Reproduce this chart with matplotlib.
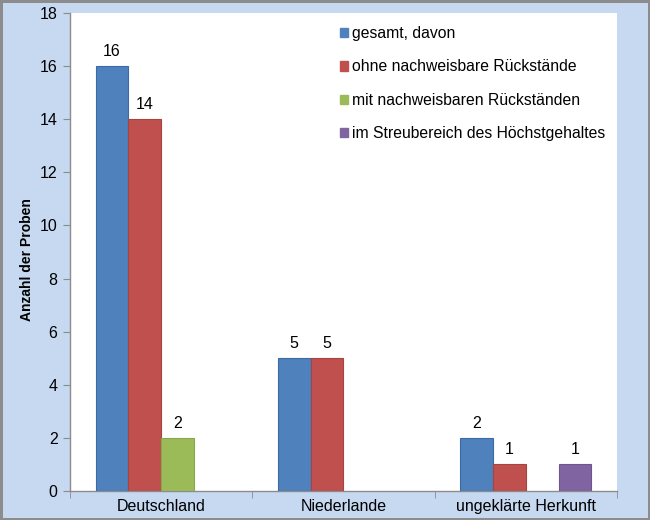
import matplotlib
matplotlib.use("Agg")
import matplotlib.pyplot as plt
from matplotlib.patches import Patch
import numpy as np

plt.rcParams['font.family'] = ['Liberation Sans', 'DejaVu Sans']

categories = ["Deutschland", "Niederlande", "ungeklärte Herkunft"]
series_names = ["gesamt, davon", "ohne nachweisbare Rückstände",
                "mit nachweisbaren Rückständen", "im Streubereich des Höchstgehaltes"]
gesamt = [16, 5, 2]
ohne = [14, 5, 1]
mit = [2, 0, 0]
streu = [0, 0, 1]
series_values = [gesamt, ohne, mit, streu]
colors = ["#4F81BD", "#C0504D", "#9BBB59", "#8064A2"]
edges = ["#3A6BA8", "#A84440", "#88A84A", "#6E5590"]
yticks = [0, 2, 4, 6, 8, 10, 12, 14, 16, 18]

fig = plt.figure(figsize=(6.5, 5.2), dpi=100)
fig.patch.set_facecolor("#C6D9F1")
fig.patch.set_edgecolor("#8C8C8C")
fig.patch.set_linewidth(2.5)
ax = fig.add_axes([0.1077, 0.0558, 0.8415, 0.9192])
ax.set_facecolor("white")

x = np.arange(len(categories))
w = 0.18
for i, (vals, c, ec) in enumerate(zip(series_values, colors, edges)):
    off = (i - 1.5) * w
    xs = [x[j] + off for j in range(len(vals)) if vals[j] > 0]
    vs = [v for v in vals if v > 0]
    bars = ax.bar(xs, vs, width=w, color=c, edgecolor=ec, linewidth=0.8, zorder=3)
    ax.bar_label(bars, labels=[str(v) for v in vs], padding=5, fontsize=11.5)

ax.set_xlim(-0.5, len(categories) - 0.5)
ax.set_ylim(0, 18)
ax.set_yticks(yticks)
ax.set_xticks(x)
ax.set_xticklabels(categories, fontsize=11.5)
ax.set_xticks(np.arange(-0.5, len(categories) + 0.5, 1), minor=True)
ax.tick_params(axis='x', which='major', length=0, pad=6)
ax.tick_params(axis='x', which='minor', length=5, color="#8C8C8C", direction='out')
ax.tick_params(axis='y', length=5, color="#8C8C8C", direction='out', labelsize=11.5, pad=4)
for s in ['top', 'right']:
    ax.spines[s].set_visible(False)
for s in ['left', 'bottom']:
    ax.spines[s].set_color("#8C8C8C")
    ax.spines[s].set_linewidth(1)

ax.set_ylabel("Anzahl der Proben", fontsize=10, fontweight='bold', labelpad=4)
ax.yaxis.set_label_coords(-0.066, 0.485)

handles = [Patch(facecolor=c, edgecolor=c) for c in colors]
fig.legend(handles, series_names, loc='upper left', bbox_to_anchor=(0.501, 0.977),
           frameon=False, fontsize=11.3, handlelength=0.55, handleheight=0.55,
           handletextpad=0.25, labelspacing=1.17)

fig.savefig("out.png", dpi=100, facecolor=fig.get_facecolor(), edgecolor=fig.get_edgecolor())
